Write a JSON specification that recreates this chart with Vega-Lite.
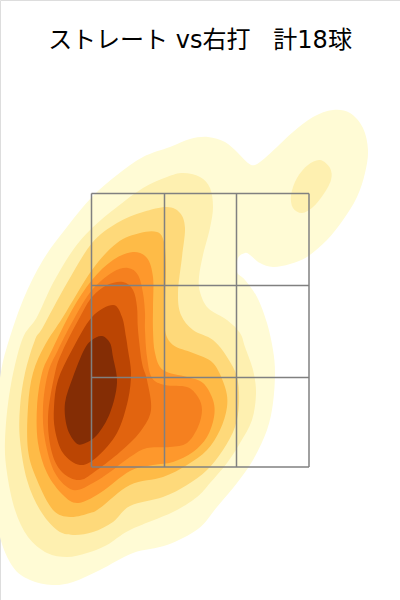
{"$schema":"https://vega.github.io/schema/vega-lite/v6.json","width":400,"height":600,"autosize":"none","padding":0,"background":"white","title":{"text":"ストレート vs右打\u00a0\u00a0\u00a0計18球","font":"DejaVu Sans, Noto Sans CJK JP","fontSize":24,"fontWeight":"normal","color":"#000000","anchor":"middle","frame":"group","offset":-53},"layer":[{"data":{"values":[
{"c":"a","l":"1","p":[[-206,160],[-203,200],[-200,222],[-194,250],[-177,300],[-157,340],[-133,373],[-108,403],[-83,425],[-57,443],[-30,453],[-10,461],[8,463],[25,458],[37,448],[48,437],[55,435],[65,442],[77,453],[93,468],[113,483],[133,490],[150,487],[163,472],[168,450],[165,427],[157,403],[143,380],[127,360],[107,343],[90,336],[73,333],[60,337],[50,345],[45,347],[38,342],[37,328],[45,320],[57,303],[67,277],[73,250],[75,227],[73,197],[67,170],[53,140],[37,117],[17,93],[-2,71],[-33,55],[-67,47],[-100,30],[-127,18],[-148,15],[-170,20],[-187,33],[-200,63],[-206,110]]},
{"c":"b","l":"2","p":[[-195,160],[-190,210],[-178,260],[-163,283],[-147,317],[-127,350],[-108,372],[-83,393],[-57,412],[-33,423],[-17,427],[0,423],[10,412],[13,393],[10,372],[3,345],[-1,323],[0,308],[8,292],[27,280],[40,267],[45,253],[53,230],[56,207],[52,180],[40,157],[27,137],[10,117],[-3,103],[-27,88],[-70,70],[-93,55],[-113,47],[-133,43],[-153,47],[-172,63],[-185,90],[-193,127]]},
{"c":"i","l":"2","p":[[120,440],[130,432],[131,420],[123,405],[113,393],[102,387],[93,392],[91,405],[97,422],[108,435]]},
{"c":"c","l":"3","p":[[-180,193],[-175,227],[-165,260],[-157,273],[-133,317],[-108,357],[-83,377],[-57,388],[-33,393],[-20,387],[-15,372],[-18,343],[-22,307],[-19,285],[-7,270],[13,260],[27,243],[37,223],[39,197],[35,173],[23,150],[7,130],[-13,115],[-37,103],[-70,94],[-87,78],[-107,68],[-127,65],[-143,70],[-160,90],[-173,120],[-180,160]]},
{"c":"d","l":"4","p":[[-172,193],[-167,227],[-155,255],[-137,283],[-108,330],[-83,357],[-60,367],[-43,368],[-36,358],[-34,333],[-35,300],[-35,270],[-27,255],[-7,247],[13,237],[25,213],[27,193],[20,170],[7,150],[-13,135],[-37,123],[-70,115],[-100,92],[-110,87],[-130,83],[-147,90],[-163,120],[-172,150]]},
{"c":"e","l":"5","p":[[-163,193],[-158,227],[-148,250],[-128,290],[-108,320],[-87,340],[-67,348],[-53,342],[-47,323],[-47,293],[-47,270],[-45,247],[-37,230],[-13,223],[3,217],[13,200],[14,183],[7,163],[-7,148],[-27,138],[-47,135],[-70,129],[-100,107],[-122,97],[-137,105],[-153,127],[-162,157]]},
{"c":"f","l":"6","p":[[-157,193],[-152,227],[-142,250],[-125,283],[-108,310],[-87,328],[-72,332],[-62,325],[-57,307],[-55,287],[-55,270],[-53,243],[-48,222],[-35,215],[-13,213],[-2,203],[2,190],[-2,173],[-13,157],[-30,153],[-53,152],[-70,143],[-90,128],[-107,117],[-127,110],[-145,127],[-155,160]]},
{"c":"g","l":"7","p":[[-152,183],[-145,227],[-137,250],[-120,283],[-108,303],[-93,315],[-77,318],[-67,310],[-63,293],[-62,270],[-58,237],[-53,220],[-49,190],[-60,168],[-80,148],[-103,130],[-120,120],[-137,127],[-148,147]]},
{"c":"h","l":"8","p":[[-146,193],[-142,220],[-128,250],[-108,283],[-87,295],[-78,283],[-74,263],[-72,250],[-69,227],[-72,200],[-83,167],[-103,143],[-120,135],[-137,147],[-145,170]]},
{"c":"j","l":"9","p":[[-135,197],[-127,223],[-116,250],[-108,260],[-98,264],[-90,257],[-87,243],[-83,217],[-90,187],[-103,165],[-117,156],[-125,158],[-133,173]]}
]},"transform":[{"flatten":["p"]},{"calculate":"datum.p[0]","as":"x"},{"calculate":"datum.p[1]","as":"y"}],"mark":{"type":"line","filled":true,"interpolate":"cardinal-closed","clip":true,"strokeWidth":0},"encoding":{"x":{"field":"x","type":"quantitative","scale":{"domain":[-200,200],"nice":false,"zero":false},"axis":null},"y":{"field":"y","type":"quantitative","scale":{"domain":[0,600],"nice":false,"zero":false},"axis":null},"detail":{"field":"c"},"order":{"value":null},"color":{"field":"l","type":"nominal","legend":null,"scale":{"domain":["1","2","3","4","5","6","7","8","9"],"range":["#fffbd5","#fef0b0","#fed97a","#febb47","#fe982c","#f5801f","#e2640f","#bb4503","#842d05"]}}}},{"data":{"values":[
{"x":-108.5,"x2":-108.5,"y":406.5,"y2":133},{"x":-35.5,"x2":-35.5,"y":406.5,"y2":133},{"x":36.5,"x2":36.5,"y":406.5,"y2":133},{"x":109,"x2":109,"y":406.5,"y2":133},
{"x":-108.5,"x2":109,"y":406.5,"y2":406.5},{"x":-108.5,"x2":109,"y":314.5,"y2":314.5},{"x":-108.5,"x2":109,"y":222.5,"y2":222.5},{"x":-108.5,"x2":109,"y":133,"y2":133}
]},"mark":{"type":"rule","color":"#808080","strokeWidth":1.5},"encoding":{"x":{"field":"x","type":"quantitative"},"x2":{"field":"x2"},"y":{"field":"y","type":"quantitative"},"y2":{"field":"y2"}}}]}
